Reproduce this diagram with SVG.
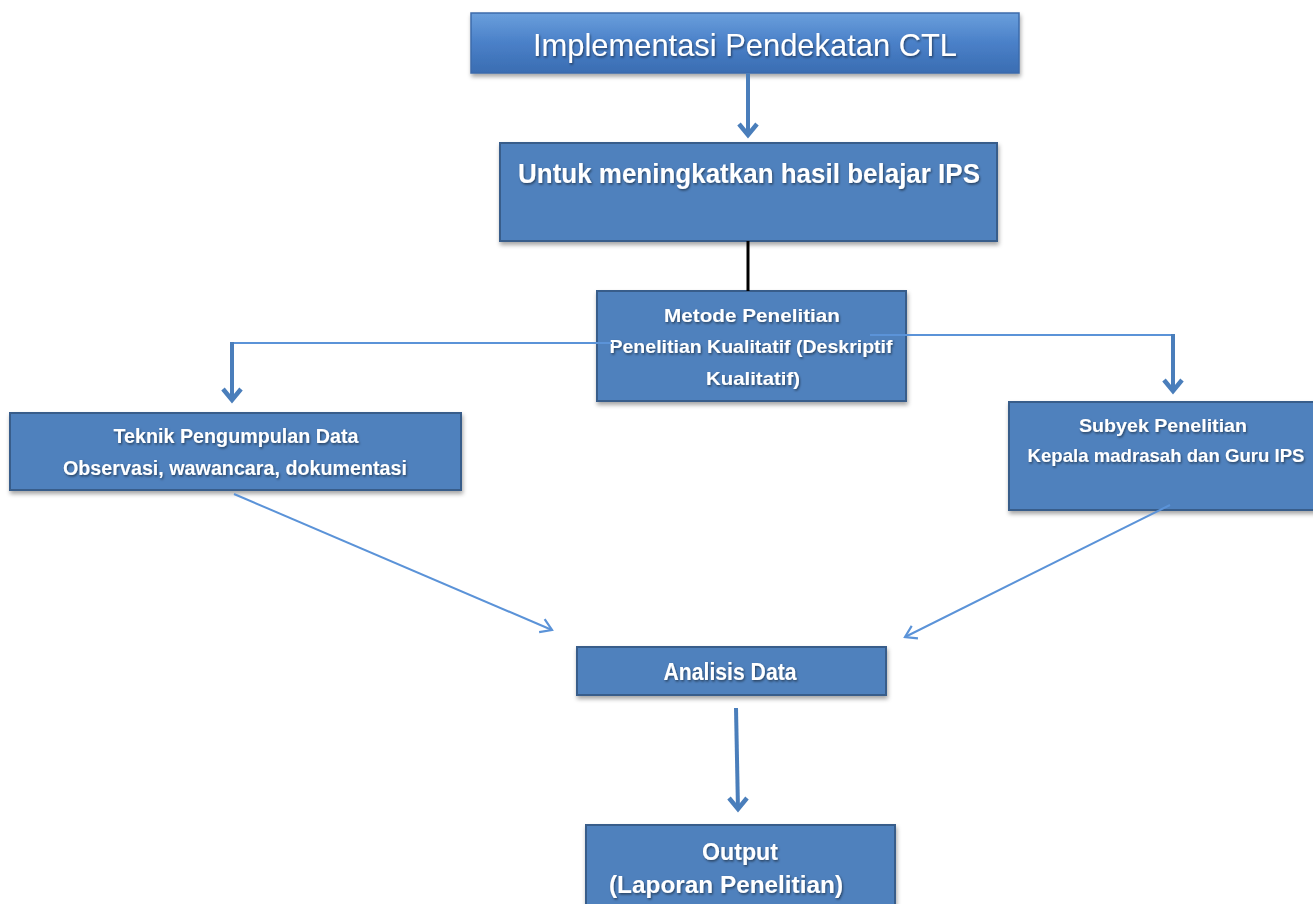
<svg xmlns="http://www.w3.org/2000/svg" width="1313" height="904" viewBox="0 0 1313 904">
<style>
.box{fill:#4f81bd;stroke:#385d8a;stroke-width:2}
.t{fill:#fff;font-family:"Liberation Sans",Arial,sans-serif;font-weight:bold;text-anchor:middle;filter:url(#ts)}
.thick{stroke:#4a7ebb;stroke-width:4;fill:none}
.thin{stroke:#5b93d8;stroke-width:2;fill:none}
</style>
<defs>
<linearGradient id="g1" x1="0" y1="0" x2="0" y2="1">
<stop offset="0" stop-color="#6a9fdc"/>
<stop offset="0.5" stop-color="#4a80c8"/>
<stop offset="1" stop-color="#3a6db2"/>
</linearGradient>
<filter id="sh" x="-5%" y="-10%" width="110%" height="130%">
<feDropShadow dx="1" dy="3" stdDeviation="2" flood-color="#000" flood-opacity="0.35"/>
</filter>
<filter id="ts" x="-5%" y="-20%" width="110%" height="140%">
<feDropShadow dx="1" dy="1.5" stdDeviation="1" flood-color="#000" flood-opacity="0.5"/>
</filter>
<marker id="ahs" viewBox="0 0 18 18" refX="16" refY="9" markerWidth="18" markerHeight="18" markerUnits="userSpaceOnUse" orient="auto">
<path d="M5,2 L16,9 L5,16" fill="none" stroke="#5b93d8" stroke-width="2.2"/>
</marker>
<marker id="ahb" viewBox="0 0 24 24" refX="12" refY="21" markerWidth="24" markerHeight="24" markerUnits="userSpaceOnUse" orient="0">
<path d="M3,9 L12,20 L21,9" fill="none" stroke="#4a7ebb" stroke-width="4.5"/>
</marker>
</defs>
<rect width="1313" height="904" fill="#fff"/>
<g id="n-title">
<rect x="471" y="13" width="548" height="60" fill="url(#g1)" stroke="#3d6bab" stroke-width="1.5" filter="url(#sh)"/>
<text x="745" y="56" class="t" style="font-weight:normal" font-size="32" textLength="424" lengthAdjust="spacingAndGlyphs">Implementasi Pendekatan CTL</text>
</g>
<g id="n-untuk">
<rect x="500" y="143" width="497" height="98" class="box" filter="url(#sh)"/>
<text x="749" y="183" class="t" font-size="28" textLength="462" lengthAdjust="spacingAndGlyphs">Untuk meningkatkan hasil belajar IPS</text>
</g>
<g id="n-metode">
<rect x="597" y="291" width="309" height="110" class="box" filter="url(#sh)"/>
<text x="752" y="322" class="t" font-size="19" textLength="176" lengthAdjust="spacingAndGlyphs">Metode Penelitian</text>
<text x="751" y="353" class="t" font-size="19" textLength="283" lengthAdjust="spacingAndGlyphs">Penelitian Kualitatif (Deskriptif</text>
<text x="753" y="385" class="t" font-size="19" textLength="94" lengthAdjust="spacingAndGlyphs">Kualitatif)</text>
</g>
<g id="n-teknik">
<rect x="10" y="413" width="451" height="77" class="box" filter="url(#sh)"/>
<text x="236" y="443" class="t" font-size="20" textLength="245" lengthAdjust="spacingAndGlyphs">Teknik Pengumpulan Data</text>
<text x="235" y="475" class="t" font-size="20" textLength="344" lengthAdjust="spacingAndGlyphs">Observasi, wawancara, dokumentasi</text>
</g>
<g id="n-subyek">
<rect x="1009" y="402" width="310" height="108" class="box" filter="url(#sh)"/>
<text x="1163" y="432" class="t" font-size="19" textLength="168" lengthAdjust="spacingAndGlyphs">Subyek Penelitian</text>
<text x="1166" y="462" class="t" font-size="19" textLength="277" lengthAdjust="spacingAndGlyphs">Kepala madrasah dan Guru IPS</text>
</g>
<g id="n-analisis">
<rect x="577" y="647" width="309" height="48" class="box" filter="url(#sh)"/>
<text x="730" y="680" class="t" font-size="24" textLength="133" lengthAdjust="spacingAndGlyphs">Analisis Data</text>
</g>
<g id="n-output">
<rect x="586" y="825" width="309" height="90" class="box" filter="url(#sh)"/>
<text x="740" y="860" class="t" font-size="24" textLength="76" lengthAdjust="spacingAndGlyphs">Output</text>
<text x="726" y="893" class="t" font-size="24" textLength="234" lengthAdjust="spacingAndGlyphs">(Laporan Penelitian)</text>
</g>
<g id="connectors">
<line class="thick" x1="748" y1="73" x2="748" y2="136" marker-end="url(#ahb)"/>
<line x1="748" y1="241" x2="748" y2="291" stroke="#000" stroke-width="3"/>
<polyline class="thin" points="612,343 232,343"/>
<line class="thick" x1="232" y1="342" x2="232" y2="401" stroke-width="3.5" marker-end="url(#ahb)"/>
<polyline class="thin" points="870,335 1173,335"/>
<line class="thick" x1="1173" y1="334" x2="1173" y2="392" stroke-width="3.5" marker-end="url(#ahb)"/>
<line class="thin" x1="234" y1="494" x2="552" y2="630" marker-end="url(#ahs)"/>
<line class="thin" x1="1170" y1="505" x2="905" y2="637" marker-end="url(#ahs)"/>
<line class="thick" x1="736" y1="708" x2="738" y2="810" marker-end="url(#ahb)"/>
</g>
</svg>
